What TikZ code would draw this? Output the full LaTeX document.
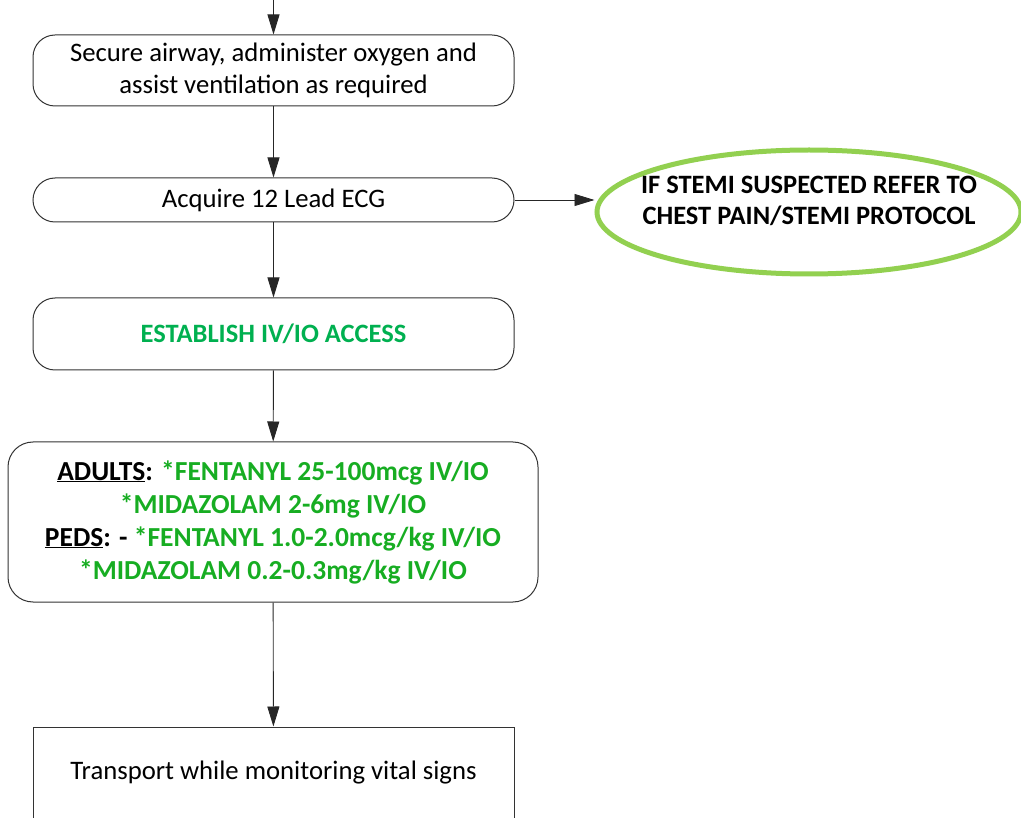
\documentclass[tikz,border=0pt]{standalone}
\usepackage{fontspec}
\setmainfont{Carlito}
\usetikzlibrary{positioning,arrows.meta,shapes.geometric}
\definecolor{ovalgreen}{HTML}{92D050}
\definecolor{accessgreen}{HTML}{00B050}
\definecolor{druggreen}{HTML}{17AD22}

\begin{document}
\begin{tikzpicture}[x=1pt,y=-1pt,font=\fontsize{26.7}{32}\selectfont]
    \tikzstyle{rbox}=[draw=black!80, line width=1pt, rounded corners=22pt, minimum width=481pt, align=center, inner sep=0pt]
    \tikzstyle{plainbox}=[draw=black!80, line width=1pt, minimum width=481pt, align=center, inner sep=0pt]
    \tikzstyle{stemi}=[draw=ovalgreen, line width=5pt, ellipse, minimum width=424pt, minimum height=124pt, inner xsep=-20pt, inner ysep=0pt, text depth=24pt, align=center, font=\fontsize{26.5}{31}\selectfont\bfseries]
    \tikzstyle{flow}=[draw=black!85, line width=0.9pt, -{Triangle[length=20pt,width=12pt]}]

    \useasboundingbox (0,0) rectangle (1021,818);
    \clip (0,0) rectangle (1021,818);

    \node[rbox, minimum height=71pt] (airway) at (273.5,70.5)
        {Secure airway, administer oxygen and\\assist ventilation as required};
    \coordinate[above=36pt of airway.north] (entry);
    \node[rbox, minimum height=44pt] (ecg) at (273.5,200) {Acquire 12 Lead ECG};
    \node[stemi] (refer) at (809,212)
        {IF STEMI SUSPECTED REFER TO\\CHEST PAIN/STEMI PROTOCOL};
    \node[rbox, minimum height=72pt, font=\fontsize{26.5}{32}\selectfont\bfseries\color{accessgreen}] (access) at (273.5,334)
        {ESTABLISH IV/IO ACCESS};
    \node[rbox, rounded corners=25pt, minimum width=530pt, minimum height=160pt, font=\fontsize{27.5}{33}\selectfont\bfseries] (meds) at (273,522)
        {\underline{ADULTS}: \textcolor{druggreen}{*FENTANYL 25-100mcg IV/IO}\\
         \textcolor{druggreen}{*MIDAZOLAM 2-6mg IV/IO}\\
         \underline{PEDS}: - \textcolor{druggreen}{*FENTANYL 1.0-2.0mcg/kg IV/IO}\\
         \textcolor{druggreen}{*MIDAZOLAM 0.2-0.3mg/kg IV/IO}};
    \node[plainbox, minimum height=92pt] (transport) at (273.5,773)
        {Transport while monitoring vital signs};

    \draw[flow] (airway) -- (ecg);
    \draw[flow] (ecg.east) -- (ecg.east -| refer.west);
    \draw[flow] (ecg) -- (access);
    \draw[flow] (access) -- (meds);
    \draw[flow] (meds) -- (transport);
    \draw[flow] (entry) -- (airway.north);
\end{tikzpicture}
\end{document}
